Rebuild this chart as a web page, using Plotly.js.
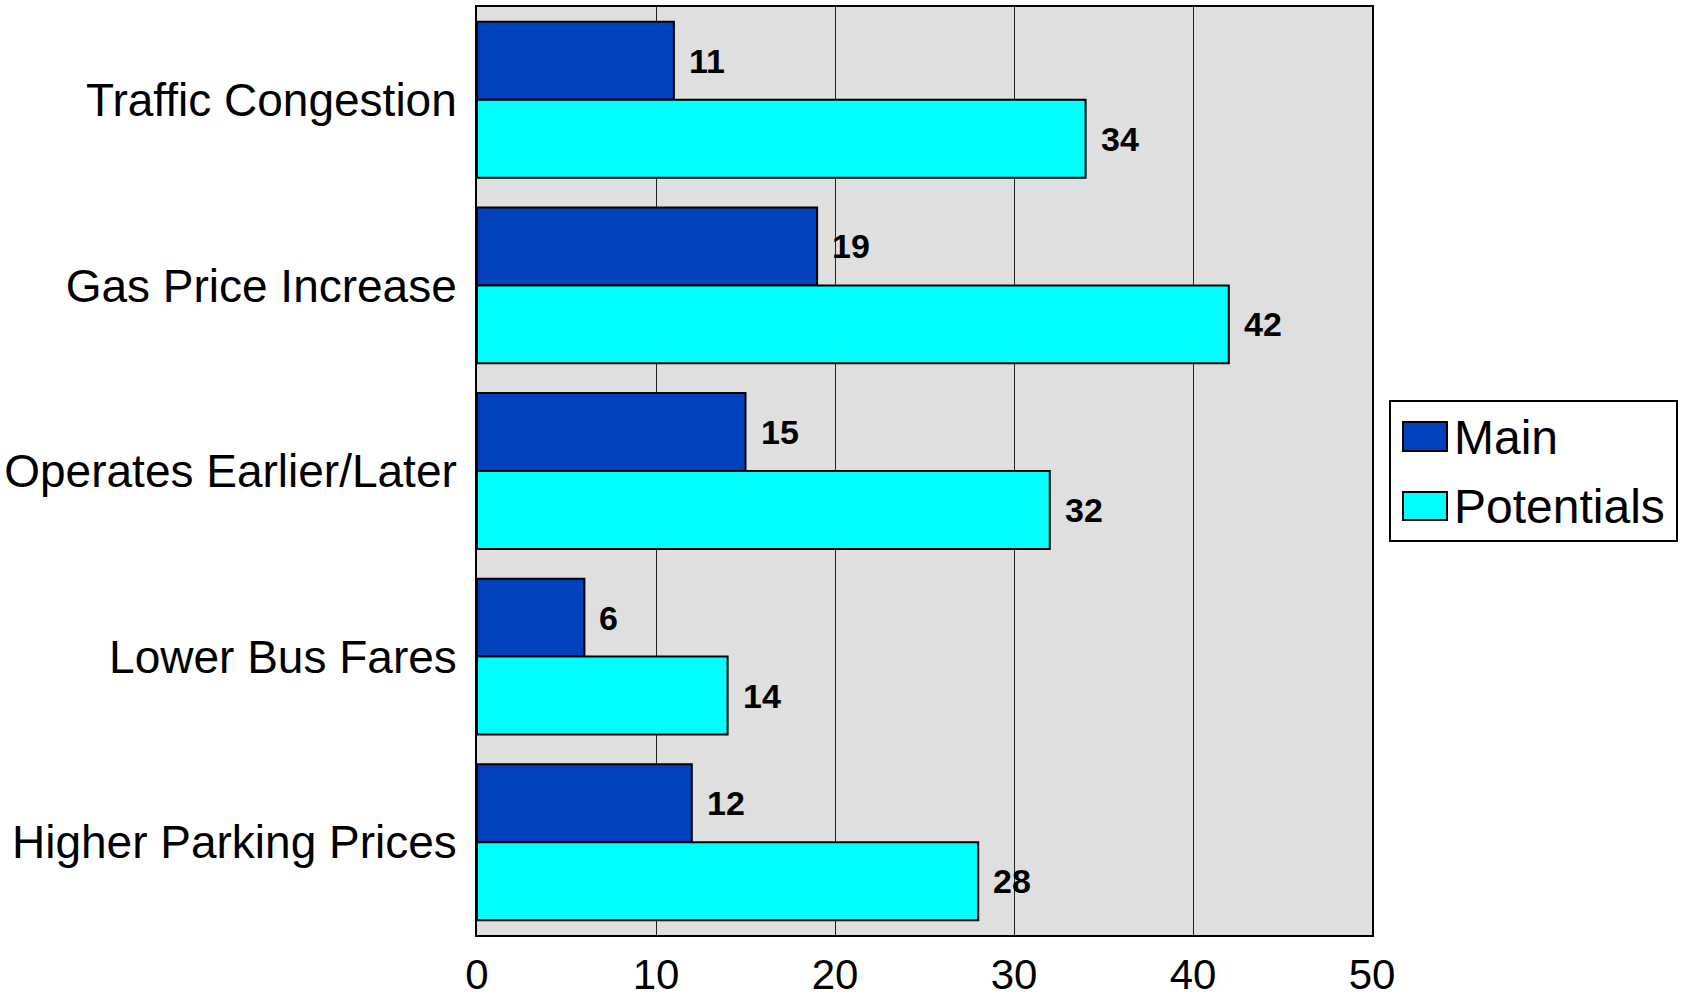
<!DOCTYPE html>
<html>
<head>
<meta charset="utf-8">
<script src="https://cdn.plot.ly/plotly-3.0.1.min.js"></script>
<style>html,body{margin:0;padding:0;background:#fff;}#chart{width:1682px;height:994px;}</style>
</head>
<body>
<div id="chart"></div>
<script>
const categories = ["Traffic Congestion", "Gas Price Increase", "Operates Earlier/Later", "Lower Bus Fares", "Higher Parking Prices"];
const mainValues = [11, 19, 15, 6, 12];
const potentialValues = [34, 42, 32, 14, 28];
const seriesNames = ["Main", "Potentials"];
const xTickValues = [0, 10, 20, 30, 40, 50];

const W = 1682, H = 994;
const L = 477, R = 1372, T = 7, B = 935;
const px = v => (v - L) / (R - L);
const py = v => (B - v) / (B - T);

const colors = ["#0041BE", "#00FFFF"];
const FONT = "Liberation Sans, Arial, sans-serif";

const traces = [mainValues, potentialValues].map((vals, k) => ({
  type: "bar",
  orientation: "h",
  name: seriesNames[k],
  x: vals,
  y: categories,
  marker: {color: colors[k], line: {color: "#000", width: 2}},
  hoverinfo: "x+y"
}));

const annotations = [];
const offsets = [-0.21, 0.21];
[mainValues, potentialValues].forEach((vals, k) => {
  vals.forEach((v, i) => {
    annotations.push({
      x: v, y: i + offsets[k], xref: "x", yref: "y",
      text: "<b>" + v + "</b>", showarrow: false,
      xanchor: "left", yanchor: "middle", xshift: 13,
      font: {family: FONT, size: 34, color: "#000"}
    });
  });
});

// custom legend
const shapes = [
  {type: "rect", xref: "paper", yref: "paper", x0: px(1390), x1: px(1677), y0: py(541), y1: py(401),
   line: {color: "#000", width: 2}, fillcolor: "#fff"},
];
const swatchY = [[422, 451], [492, 520]];
const textY = [437, 506];
seriesNames.forEach((n, k) => {
  shapes.push({type: "rect", xref: "paper", yref: "paper", x0: px(1403), x1: px(1447),
    y0: py(swatchY[k][1]), y1: py(swatchY[k][0]), line: {color: "#000", width: 2}, fillcolor: colors[k]});
  annotations.push({xref: "paper", yref: "paper", x: px(1452), y: py(textY[k]), text: n,
    showarrow: false, xanchor: "left", yanchor: "middle",
    font: {family: FONT, size: 48, color: "#000"}});
});

const layout = {
  width: W, height: H,
  margin: {l: L, r: W - R, t: T, b: H - B, pad: 0},
  paper_bgcolor: "#fff",
  plot_bgcolor: "#DFDFDF",
  barmode: "group",
  bargap: 0.16,
  bargroupgap: 0,
  showlegend: false,
  font: {family: FONT, color: "#000"},
  xaxis: {
    range: [0, 50], tickvals: xTickValues, ticks: "",
    showgrid: true, gridcolor: "#222", gridwidth: 1,
    zeroline: false, showline: true, linecolor: "#000", linewidth: 2, mirror: true,
    tickfont: {family: FONT, size: 42, color: "#000"},
    ticklabelstandoff: 2
  },
  yaxis: {
    type: "category", autorange: "reversed", ticks: "",
    showgrid: false, zeroline: false, showline: true, linecolor: "#000", linewidth: 2, mirror: true,
    tickfont: {family: FONT, size: 46, color: "#000"},
    ticklabelstandoff: 9
  },
  shapes: shapes,
  annotations: annotations
};

Plotly.newPlot("chart", traces, layout, {displayModeBar: false, staticPlot: true});
</script>
</body>
</html>
